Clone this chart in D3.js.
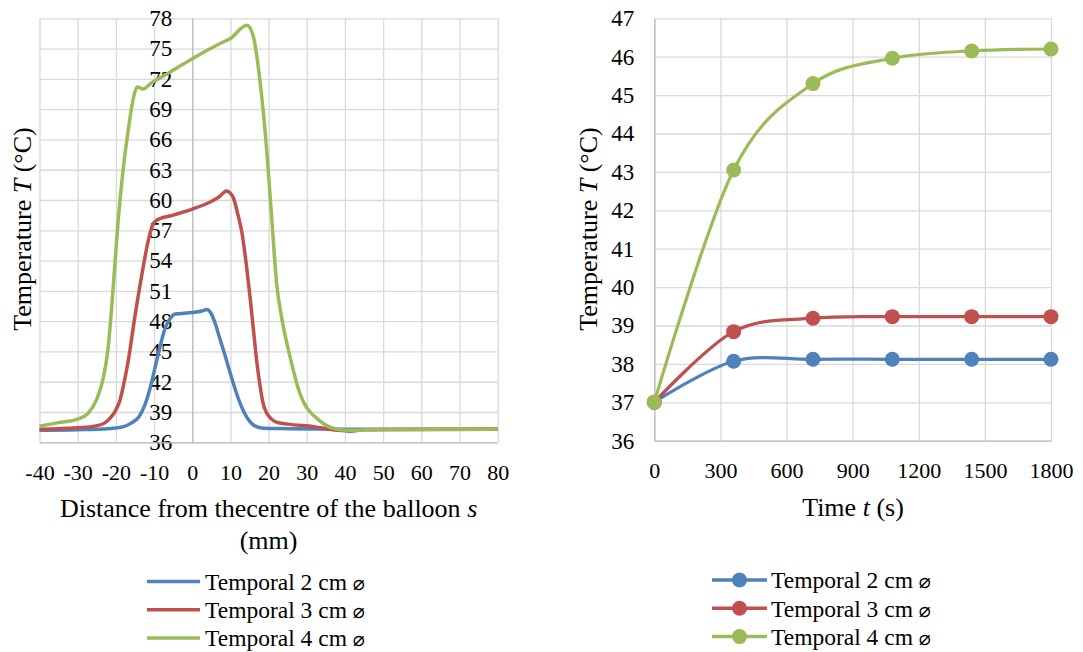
<!DOCTYPE html>
<html>
<head>
<meta charset="utf-8">
<script src="https://cdn.jsdelivr.net/npm/d3@7/dist/d3.min.js"></script>
<style>
body { margin: 0; background: #fff; }
svg text { font-family: "Liberation Serif", "Times New Roman", serif; fill: #000; }
</style>
</head>
<body>
<svg id="chart"></svg>
<script>
const seriesNames = ['Temporal 2 cm', 'Temporal 3 cm', 'Temporal 4 cm'];
const colors = ['#4f81bd', '#c0504d', '#9bbb59'];

// profile along the balloon: distance s (mm) -> temperature (°C)
const dist2cm = [-40, -30, -22, -18, -16, -14, -12.5, -11, -9, -7, -5.5, -4.5, 0, 2.5, 3.8, 4.8, 5.8, 7.2, 8.6, 10, 11.3, 12.5, 13.8, 15, 16.5, 18.5, 25, 40, 80];
const temp2cm = [37.2, 37.25, 37.35, 37.55, 37.9, 38.5, 39.6, 41.4, 44.6, 47.4, 48.4, 48.7, 48.85, 49.0, 49.15, 48.85, 48.0, 46.3, 44.6, 42.8, 41.2, 39.9, 38.8, 38.1, 37.6, 37.4, 37.35, 37.3, 37.3];

const dist3cm = [-40, -30, -25.5, -23, -21.5, -20, -18.9, -17.8, -16.7, -15, -13.2, -11.5, -10.3, -9.3, -5, 0, 4.7, 7, 9, 9.8, 10.8, 12, 13, 14.2, 15.2, 16.2, 16.9, 17.8, 18.6, 19.5, 20.5, 22, 25, 31.7, 37.8, 41.3, 45, 80];
const temp3cm = [37.3, 37.45, 37.6, 37.9, 38.4, 39.2, 40.2, 42.0, 44.2, 48.5, 52.6, 56.0, 57.6, 58.0, 58.5, 59.1, 59.8, 60.3, 60.9, 60.75, 60.2, 58.5, 56.8, 53.5, 50.2, 46.5, 44.0, 41.5, 39.8, 38.9, 38.4, 38.0, 37.8, 37.55, 37.2, 37.1, 37.25, 37.3];

const dist4cm = [-40, -35, -30, -27.3, -25.1, -23.4, -22.1, -20.3, -19.5, -18.6, -17.7, -16.8, -15.9, -15.1, -14.4, -12.9, -10.7, -6.3, 0, 7.3, 10, 14.3, 16, 17.8, 19.5, 20.8, 22.1, 23.4, 25.6, 28.2, 33.5, 38.7, 42, 50, 80];
const temp4cm = [37.6, 37.95, 38.3, 38.85, 40.2, 42.2, 45.1, 53.4, 57.5, 61.2, 64.3, 66.8, 69.1, 70.6, 71.2, 71.0, 71.6, 72.55, 74.0, 75.5, 76.0, 77.3, 76.2, 71.6, 64.95, 58.3, 51.75, 48.4, 44.5, 40.85, 38.1, 37.25, 37.2, 37.3, 37.3];

// time course: time t (s) -> temperature (°C)
const timeSec = [0, 360, 720, 1080, 1440, 1800];
const timeTemp2cm = [37.0, 38.07, 38.12, 38.12, 38.12, 38.12];
const timeTemp3cm = [37.0, 38.84, 39.19, 39.23, 39.23, 39.23];
const timeTemp4cm = [37.0, 43.05, 45.30, 45.96, 46.15, 46.20];

const distTicks = [-40, -30, -20, -10, 0, 10, 20, 30, 40, 50, 60, 70, 80];
const distTempTicks = [36, 39, 42, 45, 48, 51, 54, 57, 60, 63, 66, 69, 72, 75, 78];
const timeTicks = [0, 300, 600, 900, 1200, 1500, 1800];
const timeTempTicks = [36, 37, 38, 39, 40, 41, 42, 43, 44, 45, 46, 47];

const size = {w: 1083, h: 652};
const serif = '"Liberation Serif", "Times New Roman", serif';
const svg = d3.select('svg#chart')
    .attr('width', size.w)
    .attr('height', size.h);

const gridColor = '#d9d9d9';
const axisColor = '#bfbfbf';

function zip(xs, ys) {
    return xs.map((x, i) => ({x: x, y: ys[i]}));
}

function grid(g, xScale, yScale, xTicks, yTicks) {
    g.append('g')
        .attr('transform', `translate(0, ${yScale.range()[0]})`)
        .call(d3.axisBottom(xScale).tickValues(xTicks).tickSize(yScale.range()[1] - yScale.range()[0]).tickFormat(''))
        .call(a => a.select('.domain').remove())
        .selectAll('line').attr('stroke', gridColor).attr('stroke-width', 1.3);

    g.append('g')
        .attr('transform', `translate(${xScale.range()[0]}, 0)`)
        .call(d3.axisLeft(yScale).tickValues(yTicks).tickSize(xScale.range()[0] - xScale.range()[1]).tickFormat(''))
        .call(a => a.select('.domain').remove())
        .selectAll('line').attr('stroke', gridColor).attr('stroke-width', 1.3);
}

function styleAxis(a, fontSize) {
    a.attr('font-family', serif).attr('font-size', fontSize);
    a.select('.domain').attr('stroke', axisColor).attr('stroke-width', 1.3);
    a.selectAll('text').attr('font-family', serif).attr('font-size', fontSize).attr('fill', '#000');
}

function legend(g, x, y, withMarker) {
    const rows = g.append('g')
        .selectAll('g')
        .data(seriesNames)
        .join('g')
        .attr('transform', (d, i) => `translate(${x}, ${y + i * 28.3})`);

    rows.append('line')
        .attr('x1', 0)
        .attr('x2', withMarker ? 55 : 53)
        .attr('stroke', (d, i) => colors[i])
        .attr('stroke-width', 3.5);

    if (withMarker) {
        rows.append('circle')
            .attr('cx', 27.5)
            .attr('r', 7.5)
            .attr('fill', (d, i) => colors[i]);
    }

    const t = rows.append('text')
        .attr('x', withMarker ? 59 : 58)
        .attr('dy', '0.35em')
        .attr('font-size', 23.5)
        .text(d => d + ' ');
    t.append('tspan')
        .style('font-family', '"DejaVu Sans", sans-serif')
        .attr('font-size', 20)
        .text('\u2300');
}

function yTitle(g, x, y) {
    g.append('text')
        .attr('transform', `translate(${x}, ${y}) rotate(-90)`)
        .attr('text-anchor', 'middle')
        .attr('dy', '0.35em')
        .attr('font-size', 26)
        .call(t => {
            t.append('tspan').text('Temperature ');
            t.append('tspan').attr('font-style', 'italic').text('T');
            t.append('tspan').text(' (°C)');
        });
}

// ---------- left chart: temperature profile ----------
const left = svg.append('g');
const xDist = d3.scaleLinear().domain([-40, 80]).range([39.5, 497.7]);
const yDist = d3.scaleLinear().domain([36, 78]).range([442.3, 18.3]);

grid(left, xDist, yDist, distTicks, distTempTicks);

// vertical axis crosses at s = 0
left.append('g')
    .attr('transform', `translate(${xDist(0)}, 0)`)
    .call(d3.axisLeft(yDist).tickValues(distTempTicks).tickSize(0).tickPadding(20).tickFormat(d => String(d)))
    .call(a => styleAxis(a, 23));

left.append('g')
    .attr('transform', `translate(0, ${yDist(36)})`)
    .call(d3.axisBottom(xDist).tickValues(distTicks).tickSize(0).tickPadding(22).tickFormat(d => String(d)))
    .call(a => styleAxis(a, 22));

const distLine = d3.line()
    .x(d => xDist(d.x))
    .y(d => yDist(d.y))
    .curve(d3.curveMonotoneX);

const distSeries = [zip(dist2cm, temp2cm), zip(dist3cm, temp3cm), zip(dist4cm, temp4cm)];

left.append('g')
    .selectAll('path')
    .data(distSeries)
    .join('path')
    .attr('d', distLine)
    .attr('fill', 'none')
    .attr('stroke', (d, i) => colors[i])
    .attr('stroke-width', 3.5)
    .attr('stroke-linejoin', 'round');

yTitle(left, 22, 229);

const distTitle = left.append('text')
    .attr('text-anchor', 'middle')
    .attr('font-size', 26);
distTitle.append('tspan').attr('x', 268.6).attr('y', 517).text('Distance from thecentre of the balloon ');
distTitle.append('tspan').attr('font-style', 'italic').text('s');
distTitle.append('tspan').attr('x', 268.6).attr('y', 549).text('(mm)');

legend(left, 147, 581.5, false);

// ---------- right chart: temperature over time ----------
const right = svg.append('g');
const xTime = d3.scaleLinear().domain([0, 1800]).range([654.3, 1051]);
const yTime = d3.scaleLinear().domain([36, 47]).range([440.7, 18.3]);

grid(right, xTime, yTime, timeTicks, timeTempTicks);

right.append('g')
    .attr('transform', `translate(${xTime(0)}, 0)`)
    .call(d3.axisLeft(yTime).tickValues(timeTempTicks).tickSize(0).tickPadding(20).tickFormat(d => String(d)))
    .call(a => styleAxis(a, 23));

right.append('g')
    .attr('transform', `translate(0, ${yTime(36)})`)
    .call(d3.axisBottom(xTime).tickValues(timeTicks).tickSize(0).tickPadding(22).tickFormat(d => String(d)))
    .call(a => styleAxis(a, 22));

const timeLine = d3.line()
    .x(d => xTime(d.x))
    .y(d => yTime(d.y))
    .curve(d3.curveCardinal.tension(0));

const timeSeries = [zip(timeSec, timeTemp2cm), zip(timeSec, timeTemp3cm), zip(timeSec, timeTemp4cm)];

const timeG = right.append('g')
    .selectAll('g')
    .data(timeSeries)
    .join('g');

timeG.append('path')
    .attr('d', timeLine)
    .attr('fill', 'none')
    .attr('stroke', (d, i) => colors[i])
    .attr('stroke-width', 3.2);

timeG.selectAll('circle')
    .data((d, i) => d.map(p => ({...p, c: colors[i]})))
    .join('circle')
    .attr('cx', d => xTime(d.x))
    .attr('cy', d => yTime(d.y))
    .attr('r', 7.5)
    .attr('fill', d => d.c);

yTitle(right, 588, 229);

right.append('text')
    .attr('x', 853)
    .attr('y', 516)
    .attr('text-anchor', 'middle')
    .attr('font-size', 26)
    .call(t => {
        t.append('tspan').text('Time ');
        t.append('tspan').attr('font-style', 'italic').text('t');
        t.append('tspan').text(' (s)');
    });

legend(right, 712, 580, true);
</script>
</body>
</html>
